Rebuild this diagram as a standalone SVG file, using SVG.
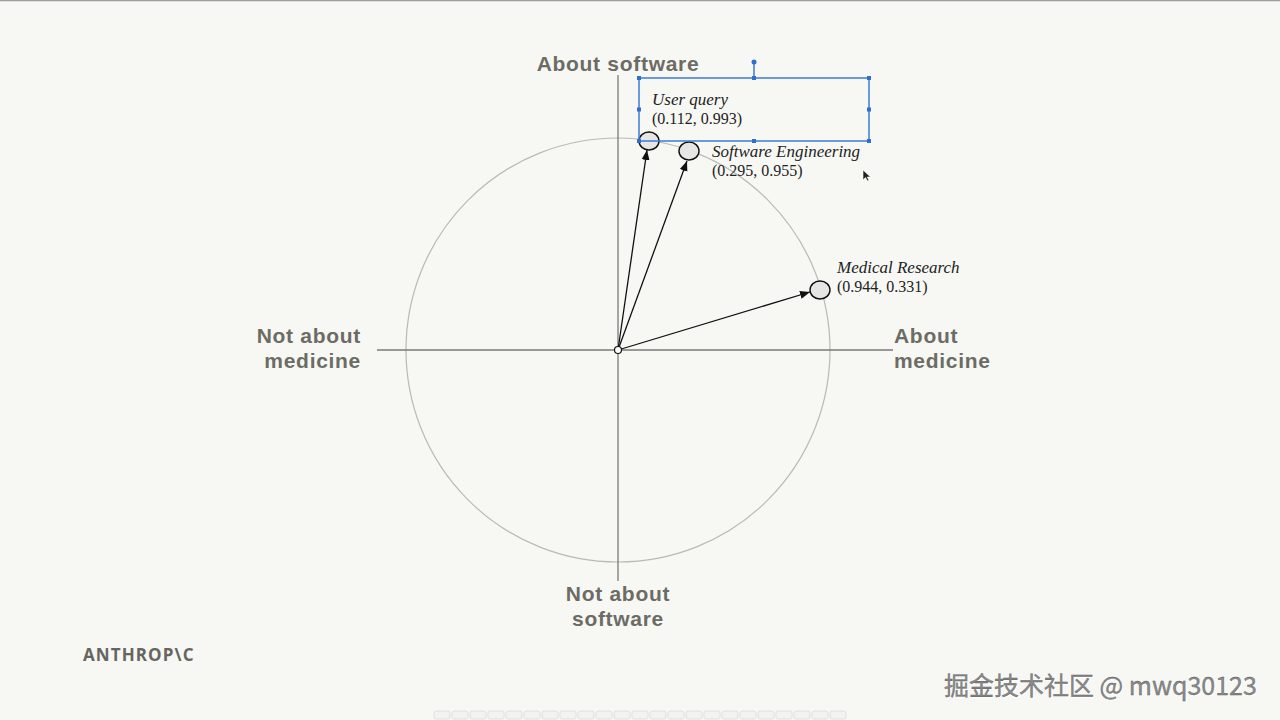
<svg xmlns="http://www.w3.org/2000/svg" width="1280" height="720" viewBox="0 0 1280 720">
<defs>
<marker id="ah" viewBox="0 0 10 10" refX="10" refY="5" markerWidth="10" markerHeight="10" markerUnits="userSpaceOnUse" orient="auto">
<path d="M0,1 L10,5 L0,9 Z" fill="#111"/>
</marker>
<style>
.axis{stroke:#7a7a76;stroke-width:1.3;fill:none}
.circ{stroke:#b9b9b6;stroke-width:1.2;fill:none}
.vec{stroke:#111;stroke-width:1.3;fill:none;marker-end:url(#ah)}
.pt{fill:#e6e6e4;stroke:#111;stroke-width:1.4}
.big{font-family:"Liberation Sans",Arial,sans-serif;font-weight:700;font-size:21px;letter-spacing:0.7px;fill:#6c6c65}
.it{font-family:"Liberation Serif","DejaVu Serif",serif;font-style:italic;font-size:17px;fill:#222}
.num{font-family:"Liberation Serif","DejaVu Serif",serif;font-size:16px;fill:#222}
.sel{stroke:#3d7bd6;stroke-width:1.5;fill:none}
.hd{fill:#2f6fd0}
.pg{fill:#f2f2f0;stroke:#dcdcda;stroke-width:0.8}
</style>
</defs>
<rect width="1280" height="720" fill="#f7f8f4"/>
<line x1="0" y1="0.5" x2="1280" y2="0.5" stroke="#9a9e9e" stroke-width="1.5"/>

<g id="axes">
<circle class="circ" cx="618" cy="350" r="212"/>
<line class="axis" x1="618" y1="75" x2="618" y2="581"/>
<line class="axis" x1="377" y1="350" x2="893" y2="350"/>
</g>

<g id="connectors">
<line class="vec" x1="618" y1="350" x2="647" y2="150"/>
<line class="vec" x1="618" y1="350" x2="687" y2="161"/>
<line class="vec" x1="618" y1="350" x2="810" y2="292"/>
</g>

<g id="origin"><circle cx="618" cy="350" r="3.5" fill="#fff" stroke="#111" stroke-width="1.2"/></g>

<g id="user-query">
<ellipse class="pt" cx="649" cy="141" rx="10" ry="9"/>
<text class="it" x="652" y="105">User query</text>
<text class="num" x="652" y="124">(0.112, 0.993)</text>
</g>
<g id="software-engineering">
<ellipse class="pt" cx="689" cy="151" rx="10" ry="9"/>
<text class="it" x="712" y="157">Software Engineering</text>
<text class="num" x="712" y="176">(0.295, 0.955)</text>
</g>
<g id="medical-research">
<ellipse class="pt" cx="820" cy="290" rx="10" ry="9"/>
<text class="it" x="837" y="273">Medical Research</text>
<text class="num" x="837" y="292">(0.944, 0.331)</text>
</g>

<g id="selection">
<rect class="sel" x="639" y="78" width="230" height="63"/>
<line class="sel" x1="754" y1="62" x2="754" y2="78"/>
<circle class="hd" cx="754" cy="62" r="2.5"/>
<rect class="hd" x="637" y="76" width="4" height="4"/>
<rect class="hd" x="752" y="76" width="4" height="4"/>
<rect class="hd" x="867" y="76" width="4" height="4"/>
<rect class="hd" x="637" y="107.5" width="4" height="4"/>
<rect class="hd" x="867" y="107.5" width="4" height="4"/>
<rect class="hd" x="637" y="139" width="4" height="4"/>
<rect class="hd" x="752" y="139" width="4" height="4"/>
<rect class="hd" x="867" y="139" width="4" height="4"/>
</g>

<g id="cursor"><path d="M863,170 L863,180 L865.5,177.5 L867.5,181 L869,180.3 L867.2,177 L870.5,177 Z" fill="#222" stroke="#fff" stroke-width="0.6"/></g>

<g id="labels">
<text class="big" x="618" y="71" text-anchor="middle">About software</text>
<text class="big" text-anchor="end"><tspan x="361" y="343">Not about</tspan><tspan x="361" y="368">medicine</tspan></text>
<text class="big"><tspan x="894" y="343">About</tspan><tspan x="894" y="368">medicine</tspan></text>
<text class="big" text-anchor="middle"><tspan x="618" y="601">Not about</tspan><tspan x="618" y="626">software</tspan></text>
</g>

<g id="logo"><text x="83" y="661" font-family="'Open Sans','DejaVu Sans',sans-serif" font-weight="700" font-size="17" letter-spacing="1.1" fill="#666660">ANTHROP\C</text></g>

<g id="watermark">
<text x="944" y="695" font-family="'Noto Sans CJK SC',sans-serif" font-size="25" fill="#ffffff" transform="translate(1,1)">掘金技术社区 @ mwq30123</text>
<text x="944" y="695" font-family="'Noto Sans CJK SC',sans-serif" font-size="25" fill="#8a8a8a" stroke="#555" stroke-width="0.3">掘金技术社区 @ mwq30123</text>
</g>

<g id="pager">
<rect class="pg" x="434" y="711" width="16" height="8" rx="2"/>
<rect class="pg" x="452" y="711" width="16" height="8" rx="2"/>
<rect class="pg" x="470" y="711" width="16" height="8" rx="2"/>
<rect class="pg" x="488" y="711" width="16" height="8" rx="2"/>
<rect class="pg" x="506" y="711" width="16" height="8" rx="2"/>
<rect class="pg" x="524" y="711" width="16" height="8" rx="2"/>
<rect class="pg" x="542" y="711" width="16" height="8" rx="2"/>
<rect class="pg" x="560" y="711" width="16" height="8" rx="2"/>
<rect class="pg" x="578" y="711" width="16" height="8" rx="2"/>
<rect class="pg" x="596" y="711" width="16" height="8" rx="2"/>
<rect class="pg" x="614" y="711" width="16" height="8" rx="2"/>
<rect class="pg" x="632" y="711" width="16" height="8" rx="2"/>
<rect class="pg" x="650" y="711" width="16" height="8" rx="2"/>
<rect class="pg" x="668" y="711" width="16" height="8" rx="2"/>
<rect class="pg" x="686" y="711" width="16" height="8" rx="2"/>
<rect class="pg" x="704" y="711" width="16" height="8" rx="2" fill="#d6d6d2"/>
<rect class="pg" x="722" y="711" width="16" height="8" rx="2"/>
<rect class="pg" x="740" y="711" width="16" height="8" rx="2"/>
<rect class="pg" x="758" y="711" width="16" height="8" rx="2"/>
<rect class="pg" x="776" y="711" width="16" height="8" rx="2"/>
<rect class="pg" x="794" y="711" width="16" height="8" rx="2"/>
<rect class="pg" x="812" y="711" width="16" height="8" rx="2"/>
<rect class="pg" x="830" y="711" width="16" height="8" rx="2"/>
</g>
</svg>
